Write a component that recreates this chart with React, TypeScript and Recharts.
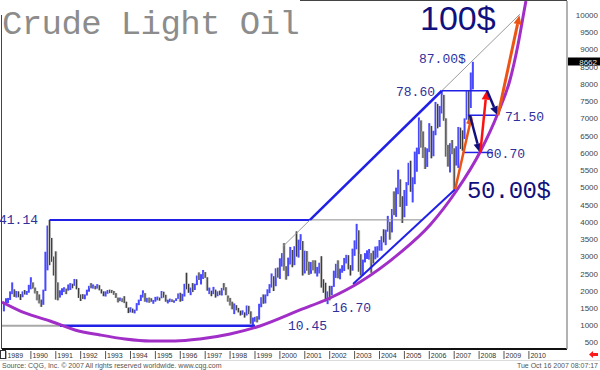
import React from 'react';
import { ComposedChart, Bar, Line, XAxis, YAxis, ReferenceLine } from 'recharts';

// Monthly crude oil futures, Dec 1988 .. Oct 2007 (USD per barrel)
const startYear = 1988;
const startMonth = 12;

const highs = [
  16.8,
  18.4, 18.5, 20.4, 23.0, 21.0, 20.5, 20.4, 19.6, 20.4, 20.8, 20.5, 22.3,
  24.5, 23.0, 21.5, 20.5, 19.5, 18.0, 20.9, 31.9, 39.5, 41.14, 35.9, 30.5,
  32.0, 23.0, 20.7, 21.3, 21.6, 21.2, 22.4, 22.8, 22.6, 24.0, 23.9, 21.4,
  19.5, 19.6, 19.5, 20.9, 22.0, 22.8, 22.4, 22.0, 22.5, 22.2, 21.0, 20.4,
  20.4, 20.8, 20.9, 20.8, 20.5, 19.9, 18.6, 18.6, 18.4, 19.0, 17.4, 15.7,
  15.8, 15.4, 15.1, 17.0, 18.0, 19.4, 20.7, 19.9, 18.5, 18.6, 18.4, 17.9,
  18.8, 18.9, 18.6, 20.5, 20.3, 19.4, 18.0, 18.3, 18.1, 17.8, 18.4, 19.8,
  20.0, 19.7, 22.6, 25.8, 22.6, 21.5, 22.8, 22.6, 25.0, 25.9, 25.4, 26.6,
  26.0, 24.5, 21.5, 20.6, 21.7, 20.9, 20.4, 20.6, 21.4, 22.8, 21.6, 19.2,
  18.5, 17.4, 16.9, 16.4, 15.6, 14.8, 14.9, 14.3, 16.3, 16.2, 14.6, 12.8,
  13.0, 13.2, 16.8, 18.7, 19.5, 19.5, 21.0, 22.5, 25.6, 24.8, 27.1, 27.3,
  30.0, 31.5, 34.4, 27.7, 30.2, 33.3, 32.4, 33.5, 37.8, 35.4, 37.0, 35.0,
  32.2, 32.1, 29.0, 28.9, 29.4, 29.4, 27.5, 28.7, 30.6, 23.9, 22.9, 20.4,
  22.0, 22.0, 26.4, 28.4, 29.4, 27.0, 28.0, 30.1, 31.0, 30.9, 28.0, 32.8,
  35.2, 39.99, 38.1, 31.2, 29.6, 31.5, 32.3, 32.7, 31.5, 32.2, 33.4, 33.5,
  35.3, 36.4, 38.4, 38.3, 42.3, 40.6, 44.3, 49.4, 50.5, 55.7, 52.9, 48.0,
  49.8, 52.1, 57.7, 58.3, 53.5, 60.95, 62.1, 70.85, 70.0, 66.8, 62.2, 61.9,
  69.2, 68.4, 67.0, 75.35, 74.8, 74.2, 78.6, 77.4, 70.6, 62.9, 63.4, 64.3,
  61.9, 62.5, 68.1, 67.9, 67.1, 70.6, 78.8, 78.8, 83.9, 87.0,
];

const lows = [
  14.6,
  16.6, 17.0, 17.9, 19.6, 18.8, 18.6, 18.7, 17.9, 18.7, 19.5, 19.4, 20.0,
  21.0, 21.2, 19.8, 17.8, 16.9, 15.9, 16.5, 20.5, 26.5, 28.0, 29.0, 25.0,
  18.0, 17.8, 18.6, 19.3, 20.2, 19.6, 20.6, 20.8, 21.3, 22.0, 21.0, 18.5,
  17.6, 18.2, 18.1, 19.2, 20.3, 21.3, 21.2, 21.0, 21.2, 20.7, 19.8, 19.0,
  18.9, 19.7, 19.9, 19.9, 19.4, 18.5, 17.2, 17.6, 17.3, 17.0, 15.6, 14.1,
  14.3, 14.2, 14.0, 14.8, 16.4, 17.6, 18.6, 17.4, 17.2, 17.1, 17.4, 16.8,
  17.4, 17.8, 17.7, 18.4, 18.6, 17.4, 16.9, 17.3, 17.3, 17.1, 17.6, 18.2,
  17.4, 17.6, 18.9, 21.0, 20.0, 19.3, 20.2, 20.8, 22.2, 23.7, 22.4, 24.0,
  24.3, 20.6, 19.6, 19.0, 19.6, 18.6, 19.0, 19.3, 19.2, 20.7, 19.3, 17.4,
  16.3, 15.2, 13.8, 14.9, 14.3, 13.4, 13.6, 12.8, 13.4, 13.8, 11.0, 10.45,
  11.6, 11.4, 12.2, 15.8, 16.8, 16.9, 19.0, 19.9, 21.5, 20.5, 21.9, 24.4,
  24.0, 27.6, 26.4, 23.8, 24.8, 28.2, 27.4, 28.0, 30.5, 30.2, 32.4, 25.0,
  25.6, 26.4, 25.2, 25.5, 26.5, 25.6, 24.7, 25.6, 21.5, 20.0, 17.5, 16.7,
  17.8, 19.3, 21.7, 24.3, 24.2, 23.9, 25.8, 26.3, 28.5, 26.8, 25.0, 26.4,
  30.7, 32.6, 26.1, 25.0, 25.0, 28.8, 29.8, 29.6, 25.8, 28.5, 29.7, 30.2,
  32.2, 32.2, 34.6, 33.8, 37.7, 35.4, 37.5, 42.5, 42.0, 48.6, 44.9, 40.25,
  41.9, 45.2, 51.2, 49.3, 46.2, 51.5, 55.1, 60.2, 62.1, 59.1, 55.9, 56.5,
  60.8, 59.0, 59.6, 65.7, 67.7, 68.1, 72.0, 69.9, 59.5, 56.6, 54.9, 60.2,
  49.9, 56.9, 56.2, 61.7, 61.2, 64.6, 70.2, 69.0, 73.6, 79.0,
];

const closes = [
  16.7,
  17.9, 18.2, 20.2, 20.5, 19.8, 20.3, 19.5, 18.8, 20.1, 19.9, 20.1, 21.8,
  22.7, 21.6, 20.3, 18.4, 17.3, 17.1, 20.7, 27.3, 39.5, 35.2, 29.5, 28.4,
  21.5, 19.2, 19.6, 20.8, 21.2, 20.6, 21.7, 22.3, 22.2, 23.5, 21.5, 19.1,
  18.9, 18.7, 19.4, 20.7, 21.7, 21.6, 21.9, 21.5, 21.8, 20.8, 20.3, 19.5,
  20.3, 20.5, 20.4, 20.3, 19.7, 18.6, 17.7, 18.2, 18.0, 17.0, 15.6, 14.2,
  15.2, 14.4, 14.9, 16.6, 17.8, 19.0, 19.7, 17.6, 18.4, 18.1, 17.5, 17.8,
  18.4, 18.4, 18.3, 20.2, 18.9, 17.4, 17.6, 17.8, 17.5, 17.7, 18.2, 19.5,
  17.7, 19.5, 21.5, 21.2, 20.6, 20.9, 20.5, 22.3, 24.4, 23.4, 25.0, 25.9,
  24.2, 20.3, 20.4, 19.9, 20.9, 19.8, 20.2, 19.6, 21.2, 21.0, 19.3, 17.6,
  17.2, 15.4, 15.6, 15.3, 15.0, 14.2, 14.2, 13.4, 16.1, 14.4, 11.2, 12.1,
  12.8, 12.3, 16.8, 18.7, 16.9, 19.3, 20.5, 22.1, 24.5, 21.7, 26.5, 25.6,
  27.6, 30.4, 26.9, 25.7, 29.0, 32.5, 27.4, 33.1, 30.8, 32.7, 34.0, 26.8,
  28.7, 27.4, 26.3, 28.5, 28.4, 26.3, 26.4, 27.2, 23.4, 21.2, 19.4, 19.8,
  19.5, 21.7, 26.3, 27.3, 25.3, 26.9, 27.0, 28.98, 30.5, 27.2, 26.9, 31.2,
  33.5, 36.6, 31.0, 25.8, 29.6, 30.2, 30.5, 31.6, 29.2, 29.1, 30.4, 32.5,
  33.1, 36.2, 35.8, 37.4, 39.9, 37.1, 43.8, 42.1, 49.6, 51.8, 49.1, 43.5,
  48.2, 51.8, 55.4, 49.7, 51.97, 56.5, 60.6, 68.9, 66.2, 59.8, 57.3, 61.0,
  67.9, 61.4, 66.6, 71.9, 71.3, 74.0, 74.4, 70.3, 62.9, 58.7, 63.1, 61.1,
  58.1, 62.0, 65.9, 65.7, 64.0, 70.7, 78.2, 74.0, 81.7, 86.62,
];

// Year tick labels (bottom) and price ticks (right)
const yearTicks = [1989, 1990, 1991, 1992, 1993, 1994, 1995, 1996, 1997, 1998, 1999,
  2000, 2001, 2002, 2003, 2004, 2005, 2006, 2007, 2008, 2009, 2010];
const priceTicks = [500, 1000, 1500, 2000, 2500, 3000, 3500, 4000, 4500, 5000,
  5500, 6000, 6500, 7000, 7500, 8000, 8500, 9000, 9500, 10000];
const lastPrice = '8662';

// Hand-drawn arc (time, price*100)
const arcTimes = [1988.84, 1989.76, 1990.77, 1991.77, 1992.78, 1993.78, 1994.78, 1995.79,
  1996.79, 1998.0, 1999.2, 2000.81, 2002.01, 2003.22, 2004.82, 2006.03, 2007.11,
  2008.04, 2008.76, 2009.24, 2009.56, 2009.8, 2009.88];
const arcValues = [1732, 1413, 1181, 920, 775, 659, 601, 601, 659, 804, 1036, 1500,
  1848, 2312, 3154, 3966, 4981, 6084, 7215, 8172, 9188, 10145, 10464];

// Annotation levels (price*100)
const lvl4114 = 4114;
const lvl1045 = 1045;
const lvl7860 = 7860;
const lvl7150 = 7150;
const lvl6070 = 6070;
const lvl5000 = 5000;
const lvl10000 = 10050;

const priceData = highs.map((h, i) => {
  const m = startMonth - 1 + i;
  const t = startYear + Math.floor(m / 12) + (m % 12) / 12;
  const open = i === 0 ? lows[0] : closes[i - 1];
  return { t, range: [lows[i] * 100, h * 100], up: closes[i] >= open };
});

const arcData = arcTimes.map((t, i) => ({ t, v: arcValues[i] }));

const PriceBar = (props: any) => {
  const { x, y, width, height, payload } = props;
  if (x == null || y == null) return null;
  const cx = x + width / 2;
  const top = Math.min(y, y + height);
  const h = Math.max(Math.abs(height), 1);
  if (payload.up) {
    return <rect x={cx - 1} y={top} width={2} height={h} fill="#4848ff" />;
  }
  return (
    <g>
      <rect x={cx - 1.5} y={top} width={3} height={h} fill="#c6c6c6" />
      <rect x={cx - 0.6} y={top} width={1.2} height={h} fill="#3c3c3c" />
    </g>
  );
};

const arrowShape = (color: string, w: number) => (p: any) => {
  const { x1, y1, x2, y2 } = p;
  if (x1 == null) return null;
  const ang = Math.atan2(y2 - y1, x2 - x1);
  const L = 9;
  const W = 4;
  const bx = x2 - L * Math.cos(ang);
  const by = y2 - L * Math.sin(ang);
  const pts = `${x2},${y2} ${bx + W * Math.sin(ang)},${by - W * Math.cos(ang)} ${bx - W * Math.sin(ang)},${by + W * Math.cos(ang)}`;
  return (
    <g>
      <line x1={x1} y1={y1} x2={bx} y2={by} stroke={color} strokeWidth={w} />
      <polygon points={pts} fill={color} />
    </g>
  );
};

const XTick = (p: any) => {
  const { x, payload } = p;
  return (
    <g>
      <line x1={x} x2={x} y1={351} y2={359} stroke="#555" strokeWidth={1} />
      <text x={x + 1.5} y={358} fontSize={7} fill="#333" fontFamily="'Liberation Sans', Arial, sans-serif">
        {payload.value}
      </text>
    </g>
  );
};

const YTick = (p: any) => {
  const { y, payload } = p;
  return (
    <text x={598} y={y + 1} textAnchor="end" fontSize={8} fill="#444" fontFamily="'Liberation Sans', Arial, sans-serif">
      {payload.value}
    </text>
  );
};

const BLUE = '#2020e6';
const NAVY = '#10107e';
const ORANGE = '#ec5414';
const RED = '#ff1010';
const PURPLE = '#a22ec8';
const LBL = '#30309a';
const mono = "'Liberation Mono', 'DejaVu Sans Mono', monospace";
const sans = "'Liberation Sans', Arial, sans-serif";

export default function App() {
  return (
    <div style={{ position: 'absolute', left: 0, top: 0, width: 600, height: 370, background: '#fff' }}>
      <ComposedChart
        width={600}
        height={370}
        data={priceData}
        margin={{ top: 1, right: 0, bottom: 0, left: 2 }}
      >
        <XAxis
          dataKey="t"
          type="number"
          domain={[1988.84, 2011.53]}
          ticks={yearTicks}
          interval={0}
          tick={(p: any) => <XTick {...p} />}
          tickLine={false}
          axisLine={{ stroke: '#111', strokeWidth: 2 }}
          height={21}
          allowDataOverflow
        />
        <YAxis
          orientation="right"
          type="number"
          domain={[368, 10464]}
          ticks={priceTicks}
          interval={0}
          width={33}
          tick={(p: any) => <YTick {...p} />}
          tickLine={false}
          axisLine={{ stroke: '#999', strokeWidth: 1.5 }}
          allowDataOverflow
        />
        <Bar dataKey="range" barSize={2} shape={PriceBar} isAnimationActive={false} />

        <ReferenceLine segment={[{ x: 1988.84, y: lvl1045 }, { x: 1991.17, y: lvl1045 }]} stroke="#a8a8a8" strokeWidth={2} />
        <ReferenceLine segment={[{ x: 1991.17, y: lvl1045 }, { x: 1999.0, y: lvl1045 }]} stroke={BLUE} strokeWidth={2.5} />
        <ReferenceLine segment={[{ x: 1990.75, y: lvl4114 }, { x: 2001.21, y: lvl4114 }]} stroke={BLUE} strokeWidth={2} />
        <ReferenceLine segment={[{ x: 2001.21, y: lvl4114 }, { x: 2005.71, y: lvl4114 }]} stroke="#8a8a8a" strokeWidth={1} />
        <ReferenceLine segment={[{ x: 2000.12, y: 3342 }, { x: 2009.64, y: 10083 }]} stroke="#9a9a9a" strokeWidth={1} />
        <ReferenceLine segment={[{ x: 2001.21, y: lvl4114 }, { x: 2006.5, y: lvl7860 }]} stroke={BLUE} strokeWidth={2.5} />
        <ReferenceLine segment={[{ x: 2002.94, y: 2254 }, { x: 2007.04, y: lvl5000 }]} stroke={BLUE} strokeWidth={2} />
        <ReferenceLine segment={[{ x: 2006.5, y: lvl7860 }, { x: 2008.36, y: lvl7860 }]} stroke={BLUE} strokeWidth={1.5} />
        <ReferenceLine segment={[{ x: 2007.55, y: lvl7150 }, { x: 2008.72, y: lvl7150 }]} stroke={BLUE} strokeWidth={1.5} />
        <ReferenceLine segment={[{ x: 2007.35, y: lvl6070 }, { x: 2008.56, y: lvl6070 }]} stroke={BLUE} strokeWidth={1.5} />

        <Line data={arcData} dataKey="v" type="monotone" stroke={PURPLE} strokeWidth={3} dot={false} isAnimationActive={false} />

        <ReferenceLine segment={[{ x: 2007.04, y: lvl5000 }, { x: 2007.71, y: lvl7150 }]} shape={arrowShape(ORANGE, 2.5)} />
        <ReferenceLine segment={[{ x: 2007.63, y: lvl7150 }, { x: 2008.03, y: lvl6070 }]} shape={arrowShape(NAVY, 2.5)} />
        <ReferenceLine segment={[{ x: 2008.05, y: lvl6070 }, { x: 2008.3, y: lvl7860 }]} shape={arrowShape(RED, 2.5)} />
        <ReferenceLine segment={[{ x: 2008.32, y: lvl7860 }, { x: 2008.74, y: lvl7150 }]} shape={arrowShape(NAVY, 2.5)} />
        <ReferenceLine segment={[{ x: 2008.76, y: lvl7150 }, { x: 2009.62, y: lvl10000 }]} shape={arrowShape(ORANGE, 3)} />
      </ComposedChart>

      <svg width={600} height={370} style={{ position: 'absolute', left: 0, top: 0, pointerEvents: 'none' }}>
        <line x1={1.5} y1={15} x2={1.5} y2={349} stroke="#444" strokeWidth={1} />
        <line x1={300} y1={0.5} x2={567} y2={0.5} stroke="#444" strokeWidth={1} />
        <line x1={0} y1={360.5} x2={600} y2={360.5} stroke="#dcdcdc" strokeWidth={1} />
        <rect x={0.5} y={350.5} width={5} height={8} fill="none" stroke="#333" strokeWidth={1} />

        <text x={2} y={34} fontSize={34} letterSpacing={-0.6} fill="#8c8c8c" fontFamily={mono}>Crude Light Oil</text>
        <text x={420} y={30} fontSize={34} fill={NAVY} fontFamily={sans}>100$</text>
        <text x={419} y={62.5} fontSize={13} fill={LBL} fontFamily={mono}>87.00$</text>
        <text x={396} y={95.5} fontSize={13} fill={LBL} fontFamily={mono}>78.60</text>
        <text x={505} y={120.5} fontSize={13} fill={LBL} fontFamily={mono}>71.50</text>
        <text x={486} y={158} fontSize={13} fill={LBL} fontFamily={mono}>60.70</text>
        <text x={467} y={198} fontSize={24} letterSpacing={-0.5} fill={NAVY} fontFamily={mono}>50.00$</text>
        <text x={-1} y={223.5} fontSize={13} fill={LBL} fontFamily={mono}>41.14</text>
        <text x={332} y={312} fontSize={13} fill={LBL} fontFamily={mono}>16.70</text>
        <text x={288} y={330} fontSize={13} fill={LBL} fontFamily={mono}>10.45</text>

        <rect x={568} y={57.5} width={32} height={8} fill="#000" />
        <text x={597} y={64.5} textAnchor="end" fontSize={8} fill="#e8e8e8" fontFamily={sans}>{lastPrice}</text>

        <polygon points="589,354.5 593,351 593,353 598,353 598,356 593,356 593,358" fill="#ff1a1a" />

        <text x={2} y={368} fontSize={7} fill="#555" fontFamily={sans}>
          Source: CQG, Inc. © 2007 All rights reserved worldwide. www.cqg.com
        </text>
        <text x={598} y={368} textAnchor="end" fontSize={7} fill="#555" fontFamily={sans}>
          Tue Oct 16 2007 08:07:17
        </text>
      </svg>
    </div>
  );
}
